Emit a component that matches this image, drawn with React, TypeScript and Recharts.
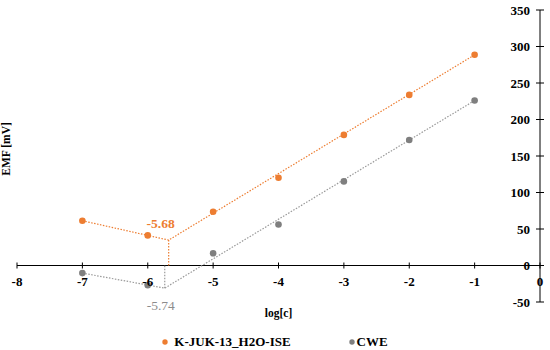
import React from 'react';
import {
  ComposedChart,
  Scatter,
  XAxis,
  YAxis,
  Legend,
  ReferenceLine,
  ReferenceDot,
} from 'recharts';

const ORANGE = '#ED7D31';
const GRAY = '#7F7F7F';
const FONT = 'Liberation Serif';

const X_TICKS = [-8, -7, -6, -5, -4, -3, -2, -1, 0];
const Y_TICKS = [-50, 0, 50, 100, 150, 200, 250, 300, 350];

// measured points
const ISE_POINTS = [
  { x: -7, y: 61.3 },
  { x: -6, y: 41.2 },
  { x: -5, y: 73.7 },
  { x: -4, y: 120.3 },
  { x: -3, y: 178.9 },
  { x: -2, y: 233.7 },
  { x: -1, y: 288.6 },
];
const CWE_POINTS = [
  { x: -7, y: -10.4 },
  { x: -6, y: -27 },
  { x: -5, y: 16.8 },
  { x: -4, y: 56.2 },
  { x: -3, y: 115.2 },
  { x: -2, y: 172 },
  { x: -1, y: 226 },
];

// fitted lines and detection limits
const ISE_LIMIT = { x: -5.68, y: 34.8 };
const CWE_LIMIT = { x: -5.74, y: -31 };
const ISE_FIT = [{ x: -7, y: 61.3 }, ISE_LIMIT, { x: -1, y: 288.6 }];
const CWE_FIT = [{ x: -7, y: -10.4 }, CWE_LIMIT, { x: -1, y: 226 }];

const WIDTH = 550;
const HEIGHT = 350;
const MARGIN = { top: 10, right: 0, left: 0, bottom: 0 };
const LEFT_AXIS_W = 17;
const LEGEND_H = 16;
const XAXIS_H = 32;
const PLOT_H = HEIGHT - MARGIN.top - MARGIN.bottom - LEGEND_H - XAXIS_H;
// x axis crosses at y = 0, 50 units above the bottom of the [-50, 350] domain
const X_AXIS_SHIFT = (PLOT_H * 50) / 400;

const XTick = (props: any) => {
  const { x, y, payload } = props;
  const y0 = y - X_AXIS_SHIFT;
  return (
    <g>
      <line x1={x} x2={x} y1={y0 - 3} y2={y0 + 3} stroke="#000" strokeWidth={1} />
      <text x={x} y={y0 + 20} textAnchor="middle" fontFamily={FONT} fontWeight="bold" fontSize={13} fill="#000">
        {payload.value}
      </text>
    </g>
  );
};

const YTick = (props: any) => {
  const { x, y, payload } = props;
  return (
    <g>
      <line x1={x - 4} x2={x + 4} y1={y} y2={y} stroke="#000" strokeWidth={1} />
      <text x={x - 10} y={y + 4.5} textAnchor="end" fontFamily={FONT} fontWeight="bold" fontSize={13} fill="#000">
        {payload.value}
      </text>
    </g>
  );
};

const YLabel = (props: any) => {
  const { viewBox } = props;
  const cx = viewBox.x + 10;
  const cy = viewBox.y + viewBox.height / 2 - 7;
  return (
    <text x={cx} y={cy} transform={`rotate(-90, ${cx}, ${cy})`} textAnchor="middle" fontFamily={FONT} fontWeight="bold" fontSize={11.5} fill="#000">
      EMF [mV]
    </text>
  );
};

const dot = (color: string) => (props: any) => (
  <circle cx={props.cx} cy={props.cy} r={3.3} fill={color} />
);
const noDot = () => <g />;

const renderLegend = () => (
  <div style={{ display: 'flex', justifyContent: 'center', fontFamily: FONT, fontWeight: 'bold', fontSize: 13, height: LEGEND_H + 4, lineHeight: `${LEGEND_H + 4}px`, alignItems: 'center' }}>
    <span style={{ display: 'flex', alignItems: 'center', marginRight: 58 }}>
      <svg width={6} height={6} style={{ marginRight: 6 }}>
        <circle cx={3} cy={3} r={2.7} fill={ORANGE} />
      </svg>
      <span>K-JUK-13_H2O-ISE</span>
    </span>
    <span style={{ display: 'flex', alignItems: 'center' }}>
      <svg width={6} height={6} style={{ marginRight: 2 }}>
        <circle cx={3} cy={3} r={2.7} fill={GRAY} />
      </svg>
      <span>CWE</span>
    </span>
  </div>
);

const App: React.FC = () => {
  return (
    <div style={{ position: 'absolute', left: 0, top: 0, width: WIDTH, height: HEIGHT, background: '#fff', fontFamily: FONT }}>
      <ComposedChart width={WIDTH} height={HEIGHT} margin={MARGIN} style={{ overflow: 'visible' }}>
        <XAxis
          type="number"
          dataKey="x"
          domain={[-8, 0]}
          ticks={X_TICKS}
          height={XAXIS_H}
          axisLine={false}
          tickLine={false}
          tickSize={0}
          tickMargin={0}
          tick={<XTick />}
          interval={0}
          label={{ value: 'log[c]', position: 'insideBottom', offset: 17, style: { fontFamily: FONT, fontWeight: 'bold', fontSize: 11.5, fill: '#000' } }}
        />
        <YAxis
          yAxisId="left"
          orientation="left"
          width={LEFT_AXIS_W}
          domain={[-50, 350]}
          axisLine={false}
          tickLine={false}
          tick={false}
          label={{ content: <YLabel /> }}
        />
        <YAxis
          type="number"
          dataKey="y"
          orientation="right"
          domain={[-50, 350]}
          ticks={Y_TICKS}
          width={10}
          axisLine={{ stroke: '#000', strokeWidth: 1 }}
          tickLine={false}
          tickSize={0}
          tickMargin={0}
          tick={<YTick />}
          interval={0}
        />
        <ReferenceLine y={0} stroke="#000" strokeWidth={1} />
        <Legend verticalAlign="bottom" height={LEGEND_H} content={renderLegend} wrapperStyle={{ bottom: 2 }} />

        <Scatter data={ISE_FIT} legendType="none" line={{ stroke: ORANGE, strokeWidth: 1.2, strokeDasharray: '1.5 1.5' }} shape={noDot} isAnimationActive={false} />
        <Scatter data={CWE_FIT} legendType="none" line={{ stroke: '#999', strokeWidth: 1.2, strokeDasharray: '1.5 1.5' }} shape={noDot} isAnimationActive={false} />
        <ReferenceLine segment={[ISE_LIMIT, { x: ISE_LIMIT.x, y: 0 }]} stroke={ORANGE} strokeWidth={1.2} strokeDasharray="1.5 1.5" />
        <ReferenceLine segment={[CWE_LIMIT, { x: CWE_LIMIT.x, y: 0 }]} stroke="#999" strokeWidth={1.2} strokeDasharray="1.5 1.5" />

        <Scatter name="K-JUK-13_H2O-ISE" data={ISE_POINTS} fill={ORANGE} shape={dot(ORANGE)} isAnimationActive={false} />
        <Scatter name="CWE" data={CWE_POINTS} fill={GRAY} shape={dot(GRAY)} isAnimationActive={false} />

        <ReferenceDot
          x={ISE_LIMIT.x}
          y={ISE_LIMIT.y}
          r={0}
          stroke="none"
          label={{
            content: (p: any) => (
              <text x={p.viewBox.x - 8} y={p.viewBox.y - 12} textAnchor="middle" fontFamily={FONT} fontWeight="bold" fontSize={13.5} fill={ORANGE}>
                -5.68
              </text>
            ),
          }}
        />
        <ReferenceDot
          x={CWE_LIMIT.x}
          y={CWE_LIMIT.y}
          r={0}
          stroke="none"
          label={{
            content: (p: any) => (
              <text x={p.viewBox.x - 4} y={p.viewBox.y + 22} textAnchor="middle" fontFamily={FONT} fontSize={13.5} fill="#8C8C8C">
                -5.74
              </text>
            ),
          }}
        />
      </ComposedChart>
    </div>
  );
};

export default App;
